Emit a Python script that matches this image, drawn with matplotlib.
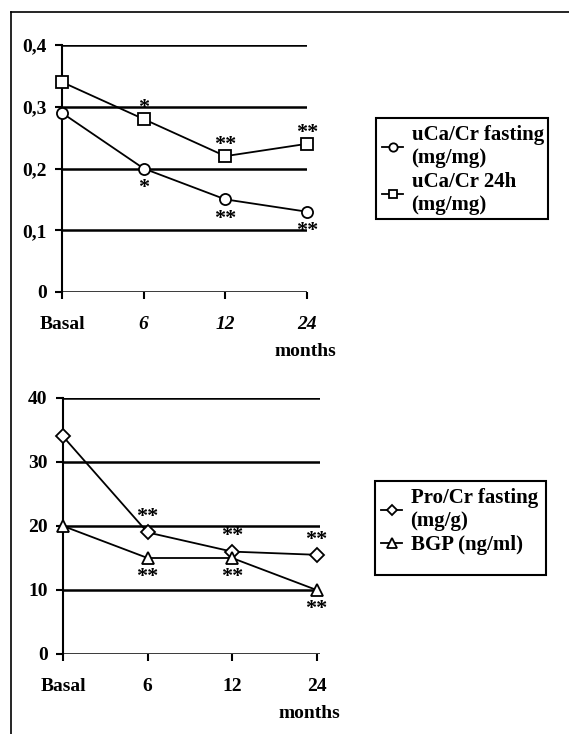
import matplotlib
matplotlib.use("Agg")
import matplotlib.pyplot as plt
from matplotlib.lines import Line2D
from matplotlib.patches import Rectangle

plt.rcParams['font.family'] = ['Liberation Serif', 'DejaVu Serif']
plt.rcParams['font.weight'] = 'bold'

# categories
months = ["Basal", "6", "12", "24"]
x = [0, 1, 2, 3]

# top panel (mg/mg)
uca_fasting = [0.29, 0.20, 0.15, 0.13]
uca_24h = [0.34, 0.28, 0.22, 0.24]
stars_fasting = ["", "*", "**", "**"]
stars_24h = ["", "*", "**", "**"]
top_ticks = [0, 0.1, 0.2, 0.3, 0.4]
top_ticklabels = ["0", "0,1", "0,2", "0,3", "0,4"]

# bottom panel
pro_cr = [34, 19, 16, 15.5]
bgp = [20, 15, 15, 10]
stars_pro = ["", "**", "**", "**"]
stars_bgp = ["", "**", "**", "**"]
bot_ticks = [0, 10, 20, 30, 40]

FS = 14
W, H = 569, 734

fig = plt.figure(figsize=(W / 100, H / 100), dpi=100)

# frame lines of the scanned page
fig.add_artist(Line2D([11/W, 11/W], [0, 1 - 12/H], color='black', lw=1.2))
fig.add_artist(Line2D([11/W, 1], [1 - 12/H, 1 - 12/H], color='black', lw=1.2))


def style_axes(ax, ticks, ticklabels, ylim, xmax, italic_nums, mx):
    ax.set_xlim(0, xmax)
    ax.set_ylim(*ylim)
    for s in ['top', 'right', 'bottom']:
        ax.spines[s].set_visible(False)
    ax.spines['left'].set_linewidth(1.5)
    ax.spines['left'].set_zorder(1)
    for t in ticks:
        ax.axhline(t, color='black', lw=1.8, zorder=1)
    ax.set_yticks(ticks)
    ax.set_yticklabels(ticklabels, fontsize=FS, fontweight='bold')
    ax.set_xticks(x)
    ax.set_xticklabels(months, fontsize=FS, fontweight='bold')
    if italic_nums:
        for lab in ax.get_xticklabels()[1:]:
            lab.set_style('italic')
    ax.tick_params(axis='y', length=5, width=1.5, pad=6)
    ax.tick_params(axis='x', length=5, width=1.5, pad=12)
    ax.annotate("months", (mx, 0), xycoords='axes fraction', xytext=(0, -43),
                textcoords='offset points', fontsize=FS, fontweight='bold',
                ha='center', va='center')


def stars(ax, ys, labels, dy):
    for xi, yi, lab in zip(x, ys, labels):
        if lab:
            ax.annotate(lab, (xi, yi), xytext=(0, dy), textcoords='offset points',
                        ha='center', va='center', fontsize=16, fontweight='bold')


def legend_box(ax, x0, y0, x1, y1):
    leg = ax.legend(loc='upper left', bbox_to_anchor=(x0 / W + 0.004, 1 - y0 / H - 0.004),
                    bbox_transform=fig.transFigure, fontsize=15, frameon=False,
                    handlelength=1.0, handletextpad=0.4, borderpad=0.2,
                    labelspacing=0.2, borderaxespad=0, markerscale=0.75)
    fig.add_artist(Rectangle((x0 / W, 1 - y1 / H), (x1 - x0) / W, (y1 - y0) / H,
                             transform=fig.transFigure, fill=False,
                             edgecolor='black', lw=1.5))
    return leg


# ---- top panel ----
ax1 = fig.add_axes([62/W, 1 - 292/H, 245/W, 247/H])
ax1.plot(x, uca_fasting, color='black', lw=1.3, marker='o', ms=8,
         mfc='white', mec='black', mew=1.3, clip_on=False, zorder=3,
         label="uCa/Cr fasting\n(mg/mg)")
ax1.plot(x, uca_24h, color='black', lw=1.3, marker='s', ms=8,
         mfc='white', mec='black', mew=1.3, clip_on=False, zorder=3,
         label="uCa/Cr 24h\n(mg/mg)")
style_axes(ax1, top_ticks, top_ticklabels, (0, 0.4), 3, True, 0.995)
stars(ax1, uca_24h, stars_24h, 8)
stars(ax1, uca_fasting, stars_fasting, -14)
legend_box(ax1, 376, 118, 548, 219)

# ---- bottom panel ----
ax2 = fig.add_axes([63/W, 1 - 654/H, 257/W, 256/H])
ax2.plot(x, pro_cr, color='black', lw=1.3, marker='D', ms=7,
         mfc='white', mec='black', mew=1.3, clip_on=False, zorder=3,
         label="Pro/Cr fasting\n(mg/g)")
ax2.plot(x, bgp, color='black', lw=1.3, marker='^', ms=9,
         mfc='white', mec='black', mew=1.3, clip_on=False, zorder=3,
         label="BGP (ng/ml)")
style_axes(ax2, bot_ticks, [str(t) for t in bot_ticks], (0, 40), 3.04, False, 0.96)
stars(ax2, pro_cr, stars_pro, 11)
stars(ax2, bgp, stars_bgp, -14)
legend_box(ax2, 375, 481, 546, 575)

fig.savefig("out.png", dpi=100)
